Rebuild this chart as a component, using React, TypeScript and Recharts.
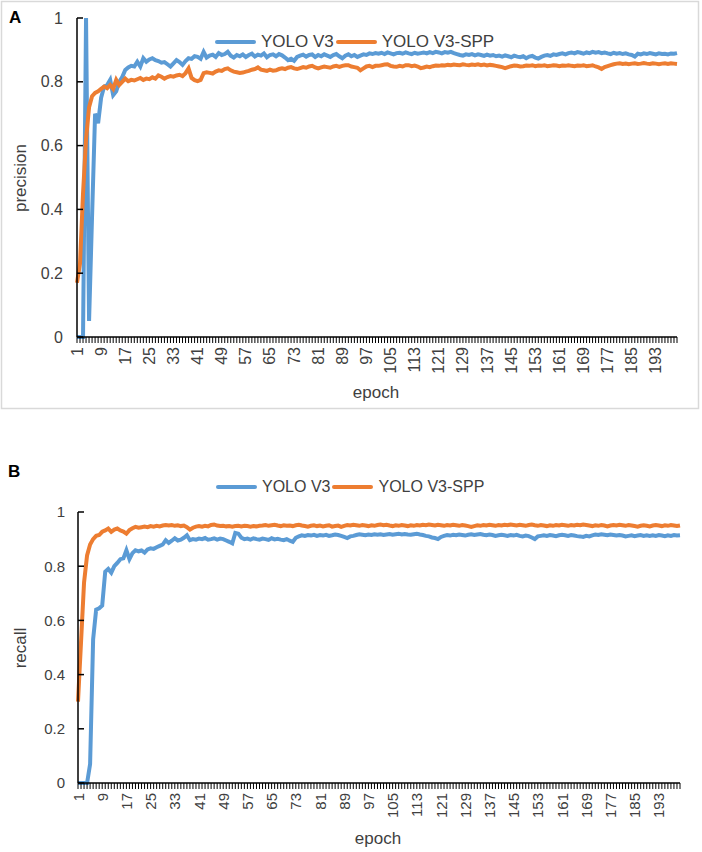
import React from 'react';
import { LineChart, Line, XAxis, YAxis } from 'recharts';

const FONT = '"Liberation Sans", Arial, sans-serif';
const BLUE = '#5B9BD5';
const ORANGE = '#ED7D31';
const TEXT = '#404040';

const seriesNames = ['YOLO V3', 'YOLO V3-SPP'];
const yTicks = [0, 0.2, 0.4, 0.6, 0.8, 1];
const xTickLabels = [1, 9, 17, 25, 33, 41, 49, 57, 65, 73, 81, 89, 97, 105, 113, 121, 129, 137, 145, 153, 161, 169, 177, 185, 193];
const epochs = Array.from({ length: 200 }, (_, i) => i + 1);

const precisionV3 = [
  0, 0, 0, 1.0, 0.05, 0.38, 0.7, 0.67, 0.75, 0.785,
  0.79, 0.806, 0.758, 0.77, 0.8, 0.815, 0.837, 0.845, 0.85, 0.848,
  0.863, 0.848, 0.874, 0.863, 0.87, 0.874, 0.868, 0.865, 0.86, 0.862,
  0.855, 0.848, 0.858, 0.868, 0.862, 0.853, 0.865, 0.874, 0.872, 0.88,
  0.878, 0.872, 0.894, 0.876, 0.882, 0.885, 0.878, 0.89, 0.884, 0.887,
  0.894, 0.882, 0.876, 0.884, 0.88, 0.886, 0.878, 0.884, 0.888, 0.879,
  0.885, 0.882, 0.889, 0.877, 0.884, 0.886, 0.88, 0.887, 0.883, 0.876,
  0.868, 0.872, 0.866, 0.878, 0.882, 0.885, 0.879, 0.884, 0.886, 0.878,
  0.884, 0.88, 0.886, 0.882, 0.878, 0.884, 0.887, 0.88, 0.874, 0.882,
  0.886, 0.88, 0.884, 0.878, 0.882, 0.886, 0.884, 0.889, 0.887, 0.89,
  0.888, 0.891, 0.887, 0.892, 0.889, 0.886, 0.89, 0.891, 0.888, 0.892,
  0.889, 0.887, 0.891, 0.888, 0.89, 0.892, 0.889, 0.893, 0.89, 0.894,
  0.892, 0.889, 0.893, 0.891, 0.894, 0.89, 0.887, 0.884, 0.882, 0.886,
  0.884, 0.887, 0.883, 0.886, 0.884, 0.881, 0.885, 0.882, 0.884, 0.88,
  0.882, 0.879, 0.883, 0.88, 0.877, 0.882, 0.879, 0.877, 0.88, 0.874,
  0.879, 0.881, 0.876, 0.873, 0.878, 0.882, 0.884, 0.881, 0.886, 0.884,
  0.887, 0.889, 0.886, 0.89, 0.892, 0.889, 0.893, 0.891, 0.888, 0.892,
  0.89, 0.894, 0.891, 0.893, 0.89, 0.892, 0.889, 0.887, 0.891, 0.888,
  0.89, 0.887, 0.889, 0.886, 0.884, 0.879, 0.888, 0.886, 0.889, 0.887,
  0.89, 0.888, 0.886, 0.889, 0.887, 0.888, 0.886, 0.889, 0.888, 0.89,
];

const precisionSPP = [
  0.17, 0.23, 0.45, 0.62, 0.72, 0.755, 0.765, 0.77, 0.778, 0.785,
  0.78, 0.79, 0.778, 0.806, 0.79, 0.8, 0.81, 0.802, 0.806, 0.804,
  0.808, 0.812, 0.806, 0.81, 0.808, 0.814, 0.81, 0.82, 0.816, 0.81,
  0.815, 0.818, 0.816, 0.82, 0.822, 0.818, 0.827, 0.842, 0.812, 0.805,
  0.802, 0.806, 0.827, 0.83, 0.828, 0.826, 0.832, 0.836, 0.834, 0.84,
  0.842, 0.836, 0.832, 0.83, 0.828, 0.829, 0.832, 0.834, 0.838, 0.84,
  0.845, 0.838, 0.836, 0.834, 0.838, 0.835, 0.836, 0.84, 0.842, 0.84,
  0.844, 0.846, 0.842, 0.84, 0.843, 0.846, 0.844, 0.848, 0.85, 0.845,
  0.842, 0.845, 0.848, 0.846, 0.844, 0.848, 0.85, 0.847, 0.85, 0.852,
  0.852, 0.848, 0.846, 0.844, 0.836, 0.842, 0.848, 0.85, 0.846, 0.85,
  0.85, 0.852, 0.854, 0.855, 0.85, 0.848, 0.847, 0.85, 0.848, 0.852,
  0.852, 0.849, 0.851, 0.848, 0.843, 0.845, 0.848, 0.846, 0.849, 0.851,
  0.85, 0.852, 0.851, 0.853, 0.852, 0.854, 0.853, 0.852, 0.855, 0.853,
  0.852, 0.854, 0.853, 0.855, 0.852, 0.854, 0.851, 0.853, 0.852, 0.85,
  0.848, 0.846, 0.843, 0.846, 0.849, 0.851, 0.85, 0.848, 0.849, 0.851,
  0.85, 0.852, 0.849, 0.851, 0.85, 0.852, 0.849, 0.85, 0.852, 0.851,
  0.849, 0.851, 0.85, 0.852, 0.85, 0.849, 0.851, 0.85, 0.852, 0.849,
  0.85, 0.852, 0.848, 0.845, 0.84, 0.846, 0.849, 0.852, 0.855, 0.857,
  0.858, 0.856, 0.857, 0.855, 0.857, 0.858, 0.856, 0.857, 0.859, 0.857,
  0.856, 0.858, 0.857, 0.855, 0.857, 0.858, 0.856, 0.858, 0.857, 0.856,
];

const recallV3 = [
  0, 0, 0, 0, 0.07, 0.53, 0.64, 0.645, 0.655, 0.78,
  0.79, 0.776, 0.8, 0.812, 0.826, 0.829, 0.859, 0.826, 0.848, 0.859,
  0.855, 0.858, 0.85, 0.862, 0.866, 0.864, 0.87, 0.875, 0.88, 0.896,
  0.886, 0.894, 0.903, 0.895, 0.898, 0.905, 0.914, 0.896, 0.9, 0.898,
  0.902, 0.9, 0.904, 0.898, 0.9, 0.903, 0.898, 0.902, 0.9, 0.895,
  0.89, 0.884, 0.923, 0.92, 0.905, 0.9, 0.902, 0.898, 0.903, 0.9,
  0.898, 0.902, 0.9, 0.897, 0.903, 0.899, 0.901, 0.898, 0.896, 0.9,
  0.894, 0.89, 0.905, 0.91, 0.914, 0.912, 0.915, 0.913, 0.916, 0.912,
  0.915, 0.913, 0.916, 0.912, 0.914, 0.917, 0.915, 0.912, 0.908, 0.904,
  0.91, 0.912, 0.915, 0.918, 0.916, 0.914, 0.917, 0.915, 0.918, 0.916,
  0.918, 0.915, 0.917, 0.919, 0.916, 0.918, 0.92, 0.917, 0.919, 0.917,
  0.916, 0.918, 0.92, 0.917, 0.915, 0.912, 0.91, 0.906, 0.904, 0.9,
  0.908, 0.912, 0.915, 0.913, 0.916, 0.914, 0.917, 0.915, 0.913, 0.916,
  0.918, 0.915, 0.917, 0.919, 0.916, 0.914, 0.917, 0.915, 0.912, 0.914,
  0.916, 0.914, 0.912, 0.915, 0.913, 0.916, 0.912, 0.91, 0.913, 0.911,
  0.906, 0.9, 0.91, 0.912, 0.914, 0.912, 0.915, 0.913, 0.911, 0.914,
  0.916, 0.914, 0.912, 0.915, 0.913, 0.911, 0.91, 0.908, 0.912, 0.91,
  0.914, 0.917, 0.915, 0.918, 0.916, 0.914, 0.917, 0.915, 0.913, 0.915,
  0.913, 0.91, 0.912, 0.914, 0.911, 0.913, 0.915, 0.912, 0.914, 0.912,
  0.914, 0.912, 0.915, 0.913, 0.911, 0.914, 0.912, 0.915, 0.913, 0.914,
];

const recallSPP = [
  0.3, 0.52, 0.74, 0.84, 0.88, 0.9, 0.912, 0.915, 0.927, 0.932,
  0.939, 0.927, 0.935, 0.939, 0.932, 0.928, 0.92, 0.933, 0.94, 0.945,
  0.942, 0.944, 0.946, 0.944, 0.948, 0.946, 0.949, 0.947, 0.95, 0.952,
  0.95, 0.952, 0.949, 0.951, 0.948, 0.95, 0.944, 0.935, 0.942, 0.946,
  0.948, 0.946, 0.949, 0.947, 0.952, 0.954, 0.95, 0.948, 0.949, 0.947,
  0.948, 0.946, 0.948, 0.949, 0.947, 0.949, 0.948, 0.946, 0.948, 0.947,
  0.949, 0.95, 0.952, 0.949, 0.951, 0.953, 0.95, 0.948, 0.951, 0.949,
  0.95, 0.948, 0.951, 0.953, 0.95, 0.948, 0.946, 0.949, 0.951, 0.948,
  0.95, 0.947, 0.949, 0.951, 0.946, 0.948, 0.95, 0.945, 0.949, 0.952,
  0.95, 0.953, 0.951, 0.949, 0.952, 0.95, 0.948, 0.951, 0.949, 0.952,
  0.954, 0.951, 0.953, 0.95, 0.948, 0.951, 0.949, 0.952, 0.95, 0.948,
  0.951, 0.949, 0.952, 0.95, 0.953, 0.951, 0.954, 0.952, 0.95, 0.953,
  0.951, 0.949, 0.952, 0.95, 0.953, 0.951, 0.949, 0.952, 0.95, 0.948,
  0.945, 0.948, 0.951, 0.949, 0.952, 0.95, 0.953, 0.951, 0.949, 0.952,
  0.95, 0.953, 0.951, 0.954, 0.952, 0.95, 0.953, 0.951, 0.949, 0.952,
  0.954, 0.951, 0.949, 0.952, 0.95, 0.948, 0.951, 0.949, 0.952, 0.95,
  0.953, 0.951, 0.949, 0.952, 0.95, 0.953, 0.951, 0.954, 0.952, 0.95,
  0.948, 0.951, 0.949, 0.952, 0.95, 0.947, 0.95, 0.952, 0.95, 0.953,
  0.951, 0.949, 0.952, 0.95, 0.948, 0.946, 0.949, 0.951, 0.949, 0.947,
  0.95, 0.952, 0.95, 0.948, 0.951, 0.949, 0.952, 0.95, 0.948, 0.95,
];

const dataA = epochs.map((e, i) => ({ epoch: e, v3: precisionV3[i], spp: precisionSPP[i] }));
const dataB = epochs.map((e, i) => ({ epoch: e, v3: recallV3[i], spp: recallSPP[i] }));

const makeXTick = (fontSize: number) => (props: any) => {
  const { x, y, payload } = props;
  if (!xTickLabels.includes(payload.value)) return <g />;
  return (
    <g>
      <text
        x={0}
        y={0}
        transform={`translate(${x},${y}) rotate(-90)`}
        textAnchor="end"
        dominantBaseline="central"
        fontSize={fontSize}
        fill={TEXT}
        fontFamily={FONT}
      >
        {payload.value}
      </text>
    </g>
  );
};

const XTickA = makeXTick(16);
const XTickB = makeXTick(15);

const LegendRow = ({ fontSize, left, top }: { fontSize: number; left: number; top: number }) => (
  <div
    style={{
      position: 'absolute',
      left,
      top,
      display: 'flex',
      alignItems: 'center',
      fontFamily: FONT,
      fontSize,
      color: TEXT,
      whiteSpace: 'nowrap',
      lineHeight: 1,
    }}
  >
    <span style={{ display: 'inline-block', width: 41, height: 4, background: BLUE, borderRadius: 2 }} />
    <span style={{ marginLeft: 5, marginRight: 2 }}>{seriesNames[0]}</span>
    <span style={{ display: 'inline-block', width: 41, height: 4, background: ORANGE, borderRadius: 2 }} />
    <span style={{ marginLeft: 5 }}>{seriesNames[1]}</span>
  </div>
);

export default function App() {
  return (
    <div style={{ position: 'absolute', left: 0, top: 0, width: 702, height: 852, background: '#fff', overflow: 'hidden' }}>
      <div style={{ position: 'absolute', left: 0, top: 0 }}>
        <LineChart width={702} height={410} data={dataA} margin={{ top: 18, right: 25, bottom: 0, left: 0 }}>
          <XAxis
            dataKey="epoch"
            type="number"
            domain={[1, 200]}
            ticks={epochs}
            interval={0}
            tick={XTickA}
            tickSize={6}
            tickMargin={4}
            height={73}
            axisLine={{ stroke: '#000', strokeWidth: 1.5 }}
            tickLine={{ stroke: '#000', strokeWidth: 1 }}
          />
          <YAxis
            domain={[0, 1]}
            ticks={yTicks}
            width={77}
            tickSize={-6}
            tickMargin={20}
            tick={{ fontSize: 16, fill: TEXT, fontFamily: FONT }}
            axisLine={{ stroke: '#000', strokeWidth: 1.5 }}
            tickLine={{ stroke: '#000', strokeWidth: 1.5 }}
          />
          <Line type="linear" dataKey="v3" name={seriesNames[0]} stroke={BLUE} strokeWidth={4} dot={false} isAnimationActive={false} />
          <Line type="linear" dataKey="spp" name={seriesNames[1]} stroke={ORANGE} strokeWidth={4} dot={false} isAnimationActive={false} />
        </LineChart>
      </div>
      <div style={{ position: 'absolute', left: 0, top: 420 }}>
        <LineChart width={702} height={432} data={dataB} margin={{ top: 92, right: 22, bottom: 0, left: 0 }}>
          <XAxis
            dataKey="epoch"
            type="number"
            domain={[1, 200]}
            ticks={epochs}
            interval={0}
            tick={XTickB}
            tickSize={6}
            tickMargin={4}
            height={69}
            axisLine={{ stroke: '#000', strokeWidth: 1.5 }}
            tickLine={{ stroke: '#000', strokeWidth: 1 }}
          />
          <YAxis
            domain={[0, 1]}
            ticks={yTicks}
            width={78}
            tickSize={-6}
            tickMargin={19}
            tick={{ fontSize: 15, fill: TEXT, fontFamily: FONT }}
            axisLine={{ stroke: '#000', strokeWidth: 1.5 }}
            tickLine={{ stroke: '#000', strokeWidth: 1.5 }}
          />
          <Line type="linear" dataKey="v3" name={seriesNames[0]} stroke={BLUE} strokeWidth={4} dot={false} isAnimationActive={false} />
          <Line type="linear" dataKey="spp" name={seriesNames[1]} stroke={ORANGE} strokeWidth={4} dot={false} isAnimationActive={false} />
        </LineChart>
      </div>
      <LegendRow fontSize={17} left={215} top={33} />
      <LegendRow fontSize={16} left={216} top={479} />
      <svg width={702} height={852} style={{ position: 'absolute', left: 0, top: 0, pointerEvents: 'none' }}>
        <rect x={1.5} y={1.5} width={697} height={407} fill="none" stroke="#d9d9d9" strokeWidth={1.5} />
        <text x={9} y={23} fontFamily={FONT} fontSize={17} fontWeight="bold" fill="#000">A</text>
        <text x={8} y={477} fontFamily={FONT} fontSize={17} fontWeight="bold" fill="#000">B</text>
        <text x={20} y={178} transform="rotate(-90 20 178)" textAnchor="middle" dominantBaseline="central" fontFamily={FONT} fontSize={17} fill={TEXT}>precision</text>
        <text x={20} y={648} transform="rotate(-90 20 648)" textAnchor="middle" dominantBaseline="central" fontFamily={FONT} fontSize={17} fill={TEXT}>recall</text>
        <text x={376} y={392} textAnchor="middle" dominantBaseline="central" fontFamily={FONT} fontSize={17} fill={TEXT}>epoch</text>
        <text x={378} y={838} textAnchor="middle" dominantBaseline="central" fontFamily={FONT} fontSize={17} fill={TEXT}>epoch</text>
      </svg>
    </div>
  );
}
